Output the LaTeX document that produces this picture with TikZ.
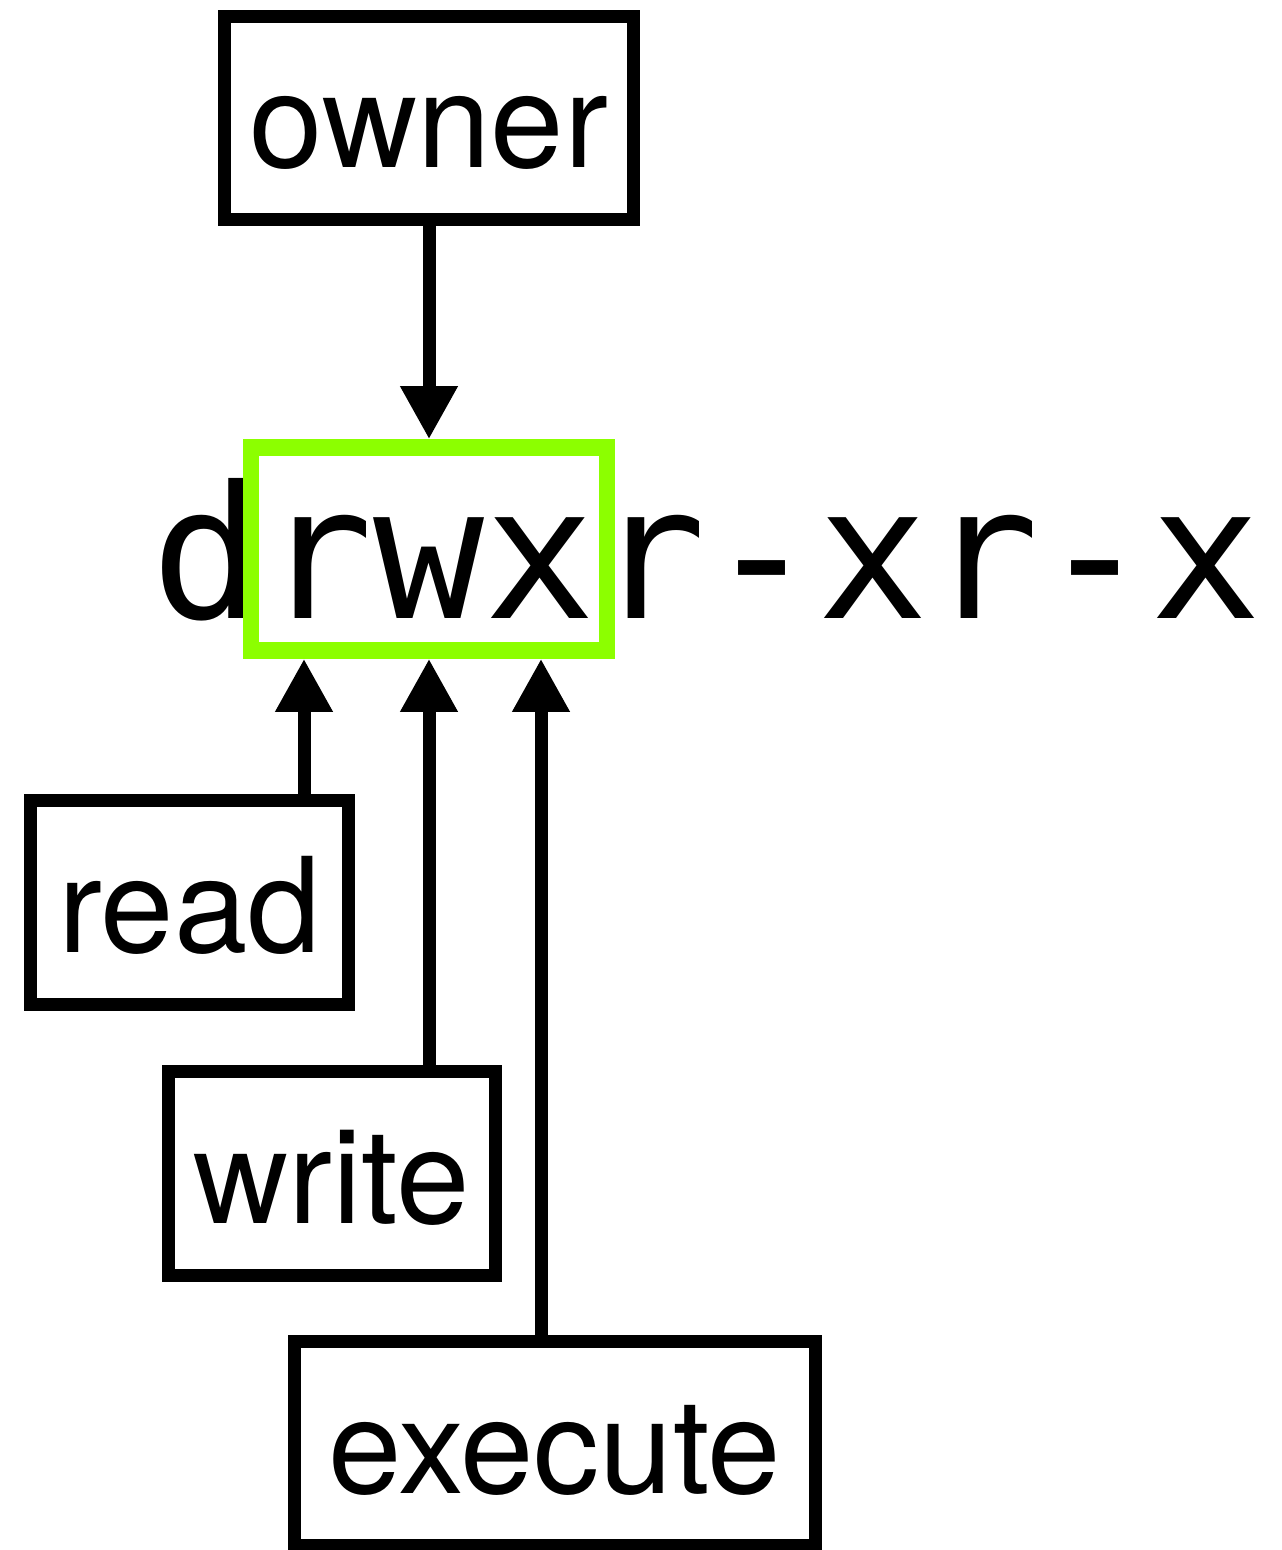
\documentclass[tikz,border=0pt]{standalone}
\usepackage{fontspec}
\setmainfont{TeX Gyre Heros}
\newfontfamily\permfont{DejaVu Sans Mono}
\usetikzlibrary{arrows.meta}
\definecolor{permgreen}{RGB}{140,255,0}
\tikzset{
  labelbox/.style={draw, line width=6.5pt, inner sep=0pt, anchor=base,
    text height=75.75pt, text depth=26pt, font=\fontsize{66pt}{70pt}\selectfont},
  bitarrow/.style={line width=6.5pt, -{Triangle[length=26.5pt, width=27pt]}},
}

\begin{document}
\begin{tikzpicture}[x=0.5pt, y=-0.5pt]
	\useasboundingbox (0,0) rectangle (1281,1550);
	% the permission string and the owner bits
	\node[inner sep=0pt, anchor=base, font=\permfont\fontsize{92.2pt}{96pt}\selectfont] (perms) at (706.5,618) {drwxr-xr-x};
	\node[draw=permgreen, line width=8.25pt, inner sep=0pt, minimum width=178pt, minimum height=101.5pt] (rwx) at (429,549) {};
	\coordinate (rbit) at (304,0);
	\coordinate (wbit) at (429,0);
	\coordinate (xbit) at (541,0);
	% labels
	\node[labelbox, minimum width=204.5pt] (owner) at (429,168) {owner};
	\node[labelbox, minimum width=159pt] (read) at (189.5,952) {read};
	\node[labelbox, minimum width=163.75pt] (write) at (331.75,1223) {write};
	\node[labelbox, minimum width=260.25pt] (execute) at (554.75,1493) {execute};
	% arrows
	\draw[bitarrow] (owner.south) -- (rwx.north);
	\draw[bitarrow] (read.north -| rbit) -- (rwx.south -| rbit);
	\draw[bitarrow] (write.north -| wbit) -- (rwx.south -| wbit);
	\draw[bitarrow] (execute.north -| xbit) -- (rwx.south -| xbit);
\end{tikzpicture}
\end{document}
